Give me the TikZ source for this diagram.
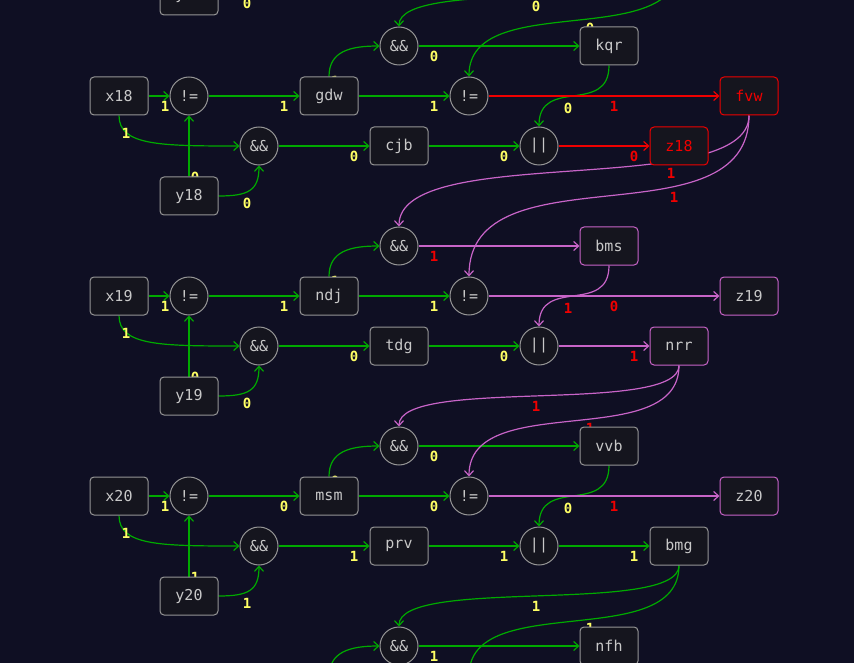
\documentclass[tikz,border=0pt]{standalone}
\usepackage{fontspec}
\usetikzlibrary{arrows.meta}
\newfontfamily\dvmono{DejaVu Sans Mono}
\newcommand\mynodefont{\dvmono\fontsize{15}{17}\selectfont}
\newcommand\mylabfont{\dvmono\bfseries\fontsize{14}{16}\selectfont}
\definecolor{bgc}{RGB}{15,15,35}
\definecolor{boxfill}{RGB}{21,21,30}
\definecolor{boxdraw}{RGB}{150,150,150}
\definecolor{txt}{RGB}{200,200,200}
\definecolor{grn}{RGB}{0,170,0}
\definecolor{purp}{RGB}{200,100,200}
\definecolor{redc}{RGB}{240,0,0}
\definecolor{yel}{RGB}{255,255,100}
\pgfdeclarelayer{bgl}
\pgfdeclarelayer{edgel}
\pgfsetlayers{bgl,edgel,main}
\tikzset{
  box/.style={rectangle, rounded corners=4pt, minimum width=58pt, minimum height=38pt,
    draw=boxdraw, fill=boxfill, line width=1pt, text=txt, font=\mynodefont, inner sep=0pt},
  redbox/.style={box, draw=redc, text=redc},
  purbox/.style={box, draw=purp},
  gate/.style={circle, minimum size=38pt, draw=boxdraw, fill=boxfill, line width=1pt,
    text=txt, font=\mynodefont, inner sep=0pt},
  wire/.style={line width=1.2pt, -{Straight Barb[length=5pt,width=9pt]}},
  gw/.style={wire, draw=grn},
  pw/.style={wire, draw=purp},
  rw/.style={wire, draw=redc},
  lab/.style={font=\mylabfont, text=yel, inner sep=0pt},
  rlab/.style={lab, text=redc}
}
\begin{document}
\begin{tikzpicture}[x=1pt,y=-1pt]
\useasboundingbox (0,0) rectangle (854,663);
\begin{pgfonlayer}{bgl}
\fill[bgc] (0,0) rectangle (854,663);
\end{pgfonlayer}

% ---- row 17 (partial) ----
\node[box] (y17) at (189,-4) {y17};
\coordinate (a17) at (259,-35);
\coordinate (c17) at (679,-35);

% ---- row 18 ----
\node[box] (x18) at (119,96) {x18};
\node[box] (y18) at (189,196) {y18};
\node[gate] (xa18) at (189,96) {!=};
\node[gate] (aa18) at (259,146) {\&\&};
\node[box] (gdw) at (329,96) {gdw};
\node[gate] (ab18) at (399,46) {\&\&};
\node[box] (cjb) at (399,146) {cjb};
\node[gate] (xb18) at (469,96) {!=};
\node[box] (kqr) at (609,46) {kqr};
\node[gate] (or18) at (539,146) {||};
\node[redbox] (fvw) at (749,96) {fvw};
\node[redbox] (z18) at (679,146) {z18};

% ---- row 19 ----
\node[box] (x19) at (119,296) {x19};
\node[box] (y19) at (189,396) {y19};
\node[gate] (xa19) at (189,296) {!=};
\node[gate] (aa19) at (259,346) {\&\&};
\node[box] (ndj) at (329,296) {ndj};
\node[gate] (ab19) at (399,246) {\&\&};
\node[box] (tdg) at (399,346) {tdg};
\node[gate] (xb19) at (469,296) {!=};
\node[purbox] (bms) at (609,246) {bms};
\node[gate] (or19) at (539,346) {||};
\node[purbox] (z19) at (749,296) {z19};
\node[purbox] (nrr) at (679,346) {nrr};

% ---- row 20 ----
\node[box] (x20) at (119,496) {x20};
\node[box] (y20) at (189,596) {y20};
\node[gate] (xa20) at (189,496) {!=};
\node[gate] (aa20) at (259,546) {\&\&};
\node[box] (msm) at (329,496) {msm};
\node[gate] (ab20) at (399,446) {\&\&};
\node[box] (prv) at (399,546) {prv};
\node[gate] (xb20) at (469,496) {!=};
\node[box] (vvb) at (609,446) {vvb};
\node[gate] (or20) at (539,546) {||};
\node[purbox] (z20) at (749,496) {z20};
\node[box] (bmg) at (679,546) {bmg};

% ---- row 21 (partial) ----
\node[gate] (ab21) at (399,646) {\&\&};
\node[box] (nfh) at (609,646) {nfh};
\coordinate (c21x) at (329,677);
\coordinate (c21b) at (469,677);

\begin{pgfonlayer}{edgel}
% row 17
\draw[gw] (y17.east) .. controls +(30,0) and +(0,25) .. (a17);
\node[lab] (l17a) at (247,3) {0};

% row 18
\draw[gw] (x18) -- (xa18);
\draw[gw] (x18.south) .. controls +(0,30) and +(-80,0) .. (aa18.west);
\draw[gw] (y18) -- (xa18);
\draw[gw] (y18.east) .. controls +(30,0) and +(0,25) .. (aa18.south);
\draw[gw] (xa18) -- (gdw);
\draw[gw] (aa18) -- (cjb);
\draw[gw] (gdw.north) .. controls +(0,-25) and +(-30,0) .. (ab18.west);
\draw[gw] (gdw) -- (xb18);
\draw[gw] (ab18) -- (kqr);
\draw[gw] (cjb) -- (or18);
\draw[gw] (kqr.south) .. controls +(0,50) and +(0,-50) .. (or18.north);
\draw[rw] (xb18) -- (fvw);
\draw[rw] (or18) -- (z18);
\draw[gw] (c17) .. controls +(0,50) and +(0,-50) .. (ab18.north);
\draw[gw] (c17) .. controls +(0,88) and +(0,-88) .. (xb18.north);
\node[lab] (l18a) at (165,106) {1};
\node[lab] (l18b) at (126,133) {1};
\node[lab] (l18c) at (195,177) {0};
\node[lab] (l18d) at (247,203) {0};
\node[lab] (l18e) at (284,106) {1};
\node[lab] (l18f) at (354,156) {0};
\node[lab] (l18g) at (335,81) {1};
\node[lab] (l18h) at (434,106) {1};
\node[lab] (l18i) at (434,56) {0};
\node[lab] (l18j) at (504,156) {0};
\node[lab] (l18k) at (568,108) {0};
\node[rlab] (l18l) at (614,106) {1};
\node[rlab] (l18m) at (634,156) {0};
\node[lab] (l18n) at (536,6) {0};
\node[lab] (l18o) at (590,28) {0};

% row 19
\draw[gw] (x19) -- (xa19);
\draw[gw] (x19.south) .. controls +(0,30) and +(-80,0) .. (aa19.west);
\draw[gw] (y19) -- (xa19);
\draw[gw] (y19.east) .. controls +(30,0) and +(0,25) .. (aa19.south);
\draw[gw] (xa19) -- (ndj);
\draw[gw] (aa19) -- (tdg);
\draw[gw] (ndj.north) .. controls +(0,-25) and +(-30,0) .. (ab19.west);
\draw[gw] (ndj) -- (xb19);
\draw[pw] (ab19) -- (bms);
\draw[gw] (tdg) -- (or19);
\draw[pw] (bms.south) .. controls +(0,50) and +(0,-50) .. (or19.north);
\draw[pw] (xb19) -- (z19);
\draw[pw] (or19) -- (nrr);
\draw[pw] (fvw.south) .. controls +(0,85) and +(0,-85) .. (ab19.north);
\draw[pw] (fvw.south) .. controls +(0,130) and +(0,-130) .. (xb19.north);
\node[lab] (l19a) at (165,306) {1};
\node[lab] (l19b) at (126,333) {1};
\node[lab] (l19c) at (195,377) {0};
\node[lab] (l19d) at (247,403) {0};
\node[lab] (l19e) at (284,306) {1};
\node[lab] (l19f) at (354,356) {0};
\node[lab] (l19g) at (335,281) {1};
\node[lab] (l19h) at (434,306) {1};
\node[rlab] (l19i) at (434,256) {1};
\node[lab] (l19j) at (504,356) {0};
\node[rlab] (l19k) at (568,308) {1};
\node[rlab] (l19l) at (614,306) {0};
\node[rlab] (l19m) at (634,356) {1};
\node[rlab] (l19n) at (671,173) {1};
\node[rlab] (l19o) at (674,197) {1};

% row 20
\draw[gw] (x20) -- (xa20);
\draw[gw] (x20.south) .. controls +(0,30) and +(-80,0) .. (aa20.west);
\draw[gw] (y20) -- (xa20);
\draw[gw] (y20.east) .. controls +(30,0) and +(0,25) .. (aa20.south);
\draw[gw] (xa20) -- (msm);
\draw[gw] (aa20) -- (prv);
\draw[gw] (msm.north) .. controls +(0,-25) and +(-30,0) .. (ab20.west);
\draw[gw] (msm) -- (xb20);
\draw[gw] (ab20) -- (vvb);
\draw[gw] (prv) -- (or20);
\draw[gw] (vvb.south) .. controls +(0,50) and +(0,-50) .. (or20.north);
\draw[pw] (xb20) -- (z20);
\draw[gw] (or20) -- (bmg);
\draw[pw] (nrr.south) .. controls +(0,50) and +(0,-50) .. (ab20.north);
\draw[pw] (nrr.south) .. controls +(0,88) and +(0,-88) .. (xb20.north);
\node[lab] (l20a) at (165,506) {1};
\node[lab] (l20b) at (126,533) {1};
\node[lab] (l20c) at (195,577) {1};
\node[lab] (l20d) at (247,603) {1};
\node[lab] (l20e) at (284,506) {0};
\node[lab] (l20f) at (354,556) {1};
\node[lab] (l20g) at (335,481) {0};
\node[lab] (l20h) at (434,506) {0};
\node[lab] (l20i) at (434,456) {0};
\node[lab] (l20j) at (504,556) {1};
\node[lab] (l20k) at (568,508) {0};
\node[rlab] (l20l) at (614,506) {1};
\node[lab] (l20m) at (634,556) {1};
\node[rlab] (l20n) at (536,406) {1};
\node[rlab] (l20o) at (590,428) {1};

% row 21
\draw[gw] (c21x) .. controls +(0,-25) and +(-30,0) .. (ab21.west);
\draw[gw] (ab21) -- (nfh);
\draw[gw] (bmg.south) .. controls +(0,50) and +(0,-50) .. (ab21.north);
\draw[gw] (bmg.south) .. controls +(0,88) and +(0,-88) .. (c21b);
\node[lab] (l21i) at (434,656) {1};
\node[lab] (l21n) at (536,606) {1};
\node[lab] (l21o) at (590,628) {1};
\end{pgfonlayer}
\end{tikzpicture}
\end{document}
